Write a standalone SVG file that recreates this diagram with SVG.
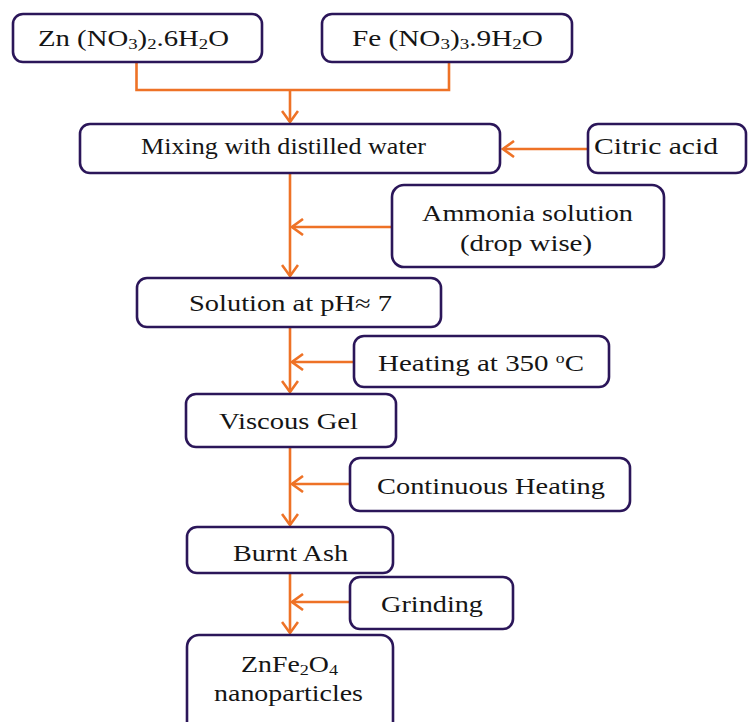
<svg xmlns="http://www.w3.org/2000/svg" width="751" height="722" viewBox="0 0 751 722">
<style>
.box{fill:#fff;stroke:#2b1659;stroke-width:2.6}
.t{font-family:"Liberation Serif","Times New Roman",serif;font-size:23px;fill:#151515;text-anchor:start}
.sub{font-size:15px;baseline-shift:-3px}
.sup{font-size:14px;baseline-shift:8px}
.c{fill:none;stroke:#ee7226;stroke-width:2.6}
</style>
<defs>
<marker id="ah" viewBox="0 0 14 18" refX="12" refY="9" markerWidth="14" markerHeight="18" markerUnits="userSpaceOnUse" orient="auto">
<path d="M1,1 L12,9 L1,17" fill="none" stroke="#ee7226" stroke-width="2.6"/>
</marker>
</defs>
<rect width="751" height="722" fill="#fff"/>
<g id="connectors">
<path class="c" d="M136.5 62 V90 H449 V62"/>
<path class="c" d="M290 90 V122" marker-end="url(#ah)"/>
<path class="c" d="M588 149 H503" marker-end="url(#ah)"/>
<path class="c" d="M290 173 V276" marker-end="url(#ah)"/>
<path class="c" d="M392 227 H292" marker-end="url(#ah)"/>
<path class="c" d="M290 327 V392" marker-end="url(#ah)"/>
<path class="c" d="M354 362 H292" marker-end="url(#ah)"/>
<path class="c" d="M290 447 V525" marker-end="url(#ah)"/>
<path class="c" d="M350 484 H292" marker-end="url(#ah)"/>
<path class="c" d="M290 573 V633" marker-end="url(#ah)"/>
<path class="c" d="M350 602 H292" marker-end="url(#ah)"/>
</g>
<g id="zn">
<rect class="box" x="13" y="14" width="249" height="48" rx="10"/>
<text class="t" x="38" y="46" textLength="191" lengthAdjust="spacingAndGlyphs">Zn (NO<tspan class="sub">3</tspan>)<tspan class="sub">2</tspan>.6H<tspan class="sub">2</tspan>O</text>
</g>
<g id="fe">
<rect class="box" x="322" y="14" width="250" height="48" rx="10"/>
<text class="t" x="352" y="46" textLength="191" lengthAdjust="spacingAndGlyphs">Fe (NO<tspan class="sub">3</tspan>)<tspan class="sub">3</tspan>.9H<tspan class="sub">2</tspan>O</text>
</g>
<g id="mixing">
<rect class="box" x="80" y="124" width="420" height="49" rx="10"/>
<text class="t" x="141" y="154" textLength="285" lengthAdjust="spacingAndGlyphs">Mixing with distilled water</text>
</g>
<g id="citric">
<rect class="box" x="588" y="124" width="158" height="49" rx="10"/>
<text class="t" x="594" y="154" textLength="124" lengthAdjust="spacingAndGlyphs">Citric acid</text>
</g>
<g id="ammonia">
<rect class="box" x="392" y="185" width="272" height="82" rx="12"/>
<text class="t" x="422" y="221" textLength="211" lengthAdjust="spacingAndGlyphs">Ammonia solution</text>
<text class="t" x="460" y="251" textLength="132" lengthAdjust="spacingAndGlyphs">(drop wise)</text>
</g>
<g id="solution">
<rect class="box" x="137" y="278" width="304" height="49" rx="10"/>
<text class="t" x="189" y="311" textLength="203" lengthAdjust="spacingAndGlyphs">Solution at pH≈ 7</text>
</g>
<g id="heating">
<rect class="box" x="354" y="336" width="255" height="51" rx="10"/>
<text class="t" x="378" y="371" textLength="206" lengthAdjust="spacingAndGlyphs">Heating at 350 <tspan class="sup">o</tspan>C</text>
</g>
<g id="viscous">
<rect class="box" x="186" y="394" width="210" height="53" rx="10"/>
<text class="t" x="219" y="429" textLength="139" lengthAdjust="spacingAndGlyphs">Viscous Gel</text>
</g>
<g id="continuous">
<rect class="box" x="350" y="458" width="280" height="53" rx="10"/>
<text class="t" x="377" y="494" textLength="228" lengthAdjust="spacingAndGlyphs">Continuous Heating</text>
</g>
<g id="burnt">
<rect class="box" x="187" y="527" width="206" height="46" rx="10"/>
<text class="t" x="233" y="561" textLength="115" lengthAdjust="spacingAndGlyphs">Burnt Ash</text>
</g>
<g id="grinding">
<rect class="box" x="350" y="577" width="163" height="52" rx="10"/>
<text class="t" x="381" y="612" textLength="102" lengthAdjust="spacingAndGlyphs">Grinding</text>
</g>
<g id="product">
<rect class="box" x="187" y="635" width="206" height="100" rx="12"/>
<text class="t" x="241" y="672" textLength="97" lengthAdjust="spacingAndGlyphs">ZnFe<tspan class="sub">2</tspan>O<tspan class="sub">4</tspan></text>
<text class="t" x="214" y="701" textLength="149" lengthAdjust="spacingAndGlyphs">nanoparticles</text>
</g>
</svg>
